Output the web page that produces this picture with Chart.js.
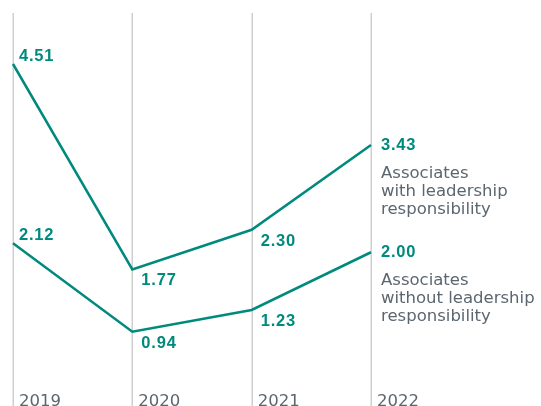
<!DOCTYPE html>
<html>
<head>
<meta charset="utf-8">
<script src="https://cdn.jsdelivr.net/npm/chart.js@4"></script>
<style>
  html, body { margin: 0; padding: 0; background: #fff; }
  #wrap { width: 541px; height: 406px; position: relative; }
</style>
</head>
<body>
<div id="wrap"><canvas id="chart"></canvas></div>
<script>
// data
const years = ['2019', '2020', '2021', '2022'];
const withLeadership = [4.51, 1.77, 2.30, 3.43];
const withoutLeadership = [2.12, 0.94, 1.23, 2.00];
const seriesNames = [
    ['Associates', 'with leadership', 'responsibility'],
    ['Associates', 'without leadership', 'responsibility']
];

const TEAL = '#008a7e';
const GREY = '#5b6670';
const GRID = '#cfcfcf';
const NUM_FONT = 'bold 16.5px "Liberation Sans", Arial, sans-serif';
const TXT_FONT = '16.5px "DejaVu Sans", sans-serif';

// grid lines + year labels, drawn from the x scale
const gridPlugin = {
    id: 'gridPlugin',
    beforeDatasetsDraw(chart) {
        const ctx = chart.ctx;
        const xs = chart.scales.x;
        const top = chart.chartArea.top;
        const h = chart.height;
        ctx.save();
        ctx.strokeStyle = GRID;
        ctx.lineWidth = 1.5;
        years.forEach((y, i) => {
            const x = Math.round(xs.getPixelForValue(i)) + 0.25;
            ctx.beginPath();
            ctx.moveTo(x, top);
            ctx.lineTo(x, h);
            ctx.stroke();
        });
        ctx.fillStyle = GREY;
        ctx.font = TXT_FONT;
        ctx.textAlign = 'left';
        ctx.textBaseline = 'alphabetic';
        years.forEach((y, i) => {
            ctx.fillText(y, xs.getPixelForValue(i) + 6, h);
        });
        ctx.restore();
    }
};

// value labels and series names
const labelPlugin = {
    id: 'labelPlugin',
    afterDatasetsDraw(chart) {
        const ctx = chart.ctx;
        ctx.save();
        chart.data.datasets.forEach((ds, di) => {
            const meta = chart.getDatasetMeta(di);
            const last = meta.data.length - 1;
            meta.data.forEach((pt, i) => {
                const txt = ds.data[i].toFixed(2);
                ctx.font = NUM_FONT;
                ctx.letterSpacing = '0.8px';
                ctx.fillStyle = TEAL;
                ctx.textAlign = 'left';
                if (i === 0) {
                    ctx.textBaseline = 'alphabetic';
                    ctx.fillText(txt, pt.x + 6, pt.y - 3);
                } else if (i === last) {
                    ctx.textBaseline = 'middle';
                    ctx.fillText(txt, pt.x + 10, pt.y);
                    ctx.font = TXT_FONT;
                    ctx.letterSpacing = '0px';
                    ctx.fillStyle = GREY;
                    ctx.textBaseline = 'alphabetic';
                    seriesNames[di].forEach((line, k) => {
                        ctx.fillText(line, pt.x + 10, pt.y + 33 + k * 18);
                    });
                } else {
                    ctx.textBaseline = 'top';
                    ctx.fillText(txt, pt.x + 9, pt.y + 3);
                }
            });
        });
        ctx.restore();
    }
};

new Chart(document.getElementById('chart'), {
    type: 'line',
    data: {
        labels: years,
        datasets: [
            {
                label: seriesNames[0].join(' '),
                data: withLeadership,
                borderColor: TEAL,
                borderWidth: 2.5,
                pointRadius: 0,
                tension: 0,
                fill: false
            },
            {
                label: seriesNames[1].join(' '),
                data: withoutLeadership,
                borderColor: TEAL,
                borderWidth: 2.5,
                pointRadius: 0,
                tension: 0,
                fill: false
            }
        ]
    },
    options: {
        responsive: true,
        maintainAspectRatio: false,
        animation: false,
        devicePixelRatio: 1,
        layout: {
            padding: { left: 13, right: 170, top: 13, bottom: 0 }
        },
        plugins: {
            legend: { display: false },
            tooltip: { enabled: false }
        },
        scales: {
            x: { display: false, offset: false },
            y: { display: false, min: -0.05, max: 5.19 }
        }
    },
    plugins: [gridPlugin, labelPlugin]
});
</script>
</body>
</html>
